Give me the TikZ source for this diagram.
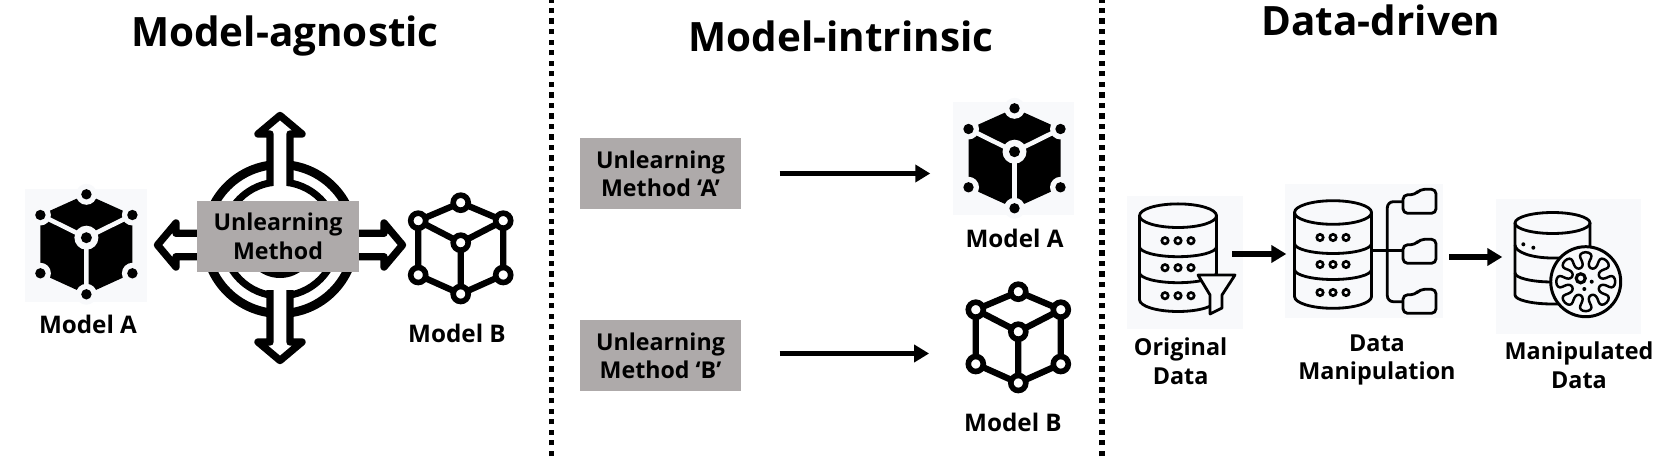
\documentclass[tikz,border=0pt]{standalone}
\usepackage{fontspec}
\setmainfont{Open Sans}
\usepackage{xcolor}
\usetikzlibrary{arrows.meta,positioning,calc}
\definecolor{methodgray}{HTML}{AEAAAA}
\definecolor{panelbg}{HTML}{F8F9FB}
\tikzset{
  titlelabel/.style={font=\fontsize{11.5}{18}\selectfont\bfseries},
  iconlabel/.style={font=\fontsize{6.9}{8.2}\selectfont\bfseries,align=center,inner sep=0pt},
  datalabel/.style={font=\fontsize{6.65}{8.2}\selectfont\bfseries,align=center,inner sep=0pt},
  methodbox/.style={fill=methodgray,minimum width=1.61cm,minimum height=.71cm,inner sep=0pt,
    align=center,font=\fontsize{6.6}{7.9}\selectfont\bfseries},
  iconpanel/.style={fill=panelbg,inner sep=0pt},
  sepline/.style={line width=1.45pt,dash pattern=on 1.5pt off 1.5pt},
  flowarrow/.style={line width=1.5pt,-{Triangle[length=.15cm,width=.17cm]}},
  compassline/.style={line width=2.1pt,line join=round},
  iconline/.style={line width=.8pt,line join=round},
  cubesolid/.pic={
    \fill (0,.434)--(.46,.227)--(.46,-.356)--(0,-.566)--(-.46,-.356)--(-.46,.227)--cycle;
    \draw[panelbg,line width=1.3pt] (-.46,.227)--(0,0)--(.46,.227) (0,0)--(0,-.566);
    \foreach \vx/\vy in {0/.434,.46/.227,.46/-.356,0/-.566,-.46/-.356,-.46/.227}{
      \fill[panelbg] (\vx,\vy) circle (.105);
      \fill (\vx,\vy) circle (.052);
    }
    \fill[panelbg] (0,0) circle (.12);
    \fill (0,0) circle (.055);
  },
  cubewire/.pic={
    \draw[line width=1.8pt,line join=round] (-.425,.22)--(0,.40)--(.425,.22)--(0,0)--cycle
      (0,0)--(0,-.513) (-.425,.22)--(-.425,-.323)--(0,-.513)--(.425,-.323)--(.425,.22);
    \foreach \vx/\vy in {0/.40,.425/.22,.425/-.323,0/-.513,-.425/-.323,-.425/.22,0/0}
      \draw[line width=1.6pt,fill=white] (\vx,\vy) circle (.075);
  },
  dbstack/.pic={
    \draw[iconline] (0,0) ellipse (.385 and .118);
    \draw[iconline] (-.385,0)--(-.385,-.84) arc[start angle=180,end angle=360,x radius=.385,y radius=.118]--(.385,0);
    \foreach \sy in {.31,.57}
      \draw[iconline] (-.385,-\sy) arc[start angle=180,end angle=360,x radius=.385,y radius=.10];
    \foreach \sy in {.25,.52,.80}
      \foreach \sx in {-.13,0,.13}
        \draw[line width=.75pt] (\sx,-\sy) circle (.032);
  },
  folder/.pic={
    \draw[iconline,rounded corners=.045cm] (0,0)--(0,.185)--(.12,.185)--(.17,.24)--(.33,.24)--(.33,0)--cycle;
  }
}
\begin{document}
\begin{tikzpicture}
  \useasboundingbox (0,0) rectangle (16.55,4.56);
  % column rules
  \draw[sepline] (5.515,0) -- (5.515,4.56);
  \draw[sepline] (11.02,0) -- (11.02,4.56);

  \node[titlelabel] (titleA) at (2.85,4.20) {Model-agnostic};
  \node[titlelabel] (titleB) at (8.41,4.20) {Model-intrinsic};
  \node[titlelabel] (titleC) at (13.81,4.36) {Data-driven};

  % first column
  \node[iconpanel,minimum width=1.22cm,minimum height=1.13cm] (modelA) at (.86,2.105) {};
  \pic at (.864,2.183) {cubesolid};
  \node[iconlabel] (labelA) at (.88,1.315) {Model A};

  \draw[line width=2.55pt] (2.80,2.17) circle (.745);
  \draw[line width=2pt] (2.80,2.17) circle (.57);
  \fill (2.80,2.14) circle (.36);
  \foreach \ang in {0,180}
    \draw[compassline,fill=white,shift={(2.80,2.18)},rotate=\ang]
      (-.10,.52)--(-.10,1.04)--(-.22,1.04)--(0,1.225)--(.22,1.04)--(.10,1.04)--(.10,.52);
  \foreach \ang in {90,270}
    \draw[compassline,fill=white,shift={(2.80,2.11)},rotate=\ang]
      (-.117,.75)--(-.117,1.04)--(-.22,1.04)--(0,1.225)--(.22,1.04)--(.117,1.04)--(.117,.75);
  \node[methodbox,minimum width=1.62cm,font=\fontsize{6.6}{8.1}\selectfont\bfseries] (method) at (2.78,2.195) {Unlearning\\Method};

  \node[minimum size=1.05cm,inner sep=0pt] (modelB) at (4.607,2.133) {};
  \pic at (modelB.center) {cubewire};
  \node[iconlabel] (labelB) at (4.57,1.225) {Model B};

  % second column
  \node[methodbox] (methodA) at (6.605,2.825) {Unlearning\\Method ‘A’};
  \node[methodbox] (methodB) at (6.605,1.005) {Unlearning\\Method ‘B’};
  \node[iconpanel,minimum width=1.21cm,minimum height=1.13cm] (modelAii) at (10.135,2.97) {};
  \pic at (10.145,3.043) {cubesolid};
  \node[iconlabel] (labelAii) at (10.145,2.177) {Model A};
  \node[minimum size=1.05cm,inner sep=0pt] (modelBii) at (10.183,1.243) {};
  \pic at (modelBii.center) {cubewire};
  \node[iconlabel] (labelBii) at (10.13,.34) {Model B};
  \draw[flowarrow,shorten <=.38cm,shorten >=.22cm] (methodA.east) -- (methodA.east -| modelAii.west);
  \draw[flowarrow,shorten <=.38cm,shorten >=.36cm] ([yshift=.02cm]methodB.east) -- ([yshift=.02cm]methodB.east -| modelBii.west);

  % third column
  \node[iconpanel,minimum width=1.16cm,minimum height=1.33cm] (original) at (11.85,1.935) {};
  \pic at (11.78,2.403) {dbstack};
  \draw[iconline,fill=panelbg] (11.98,1.81)--(12.35,1.81)--(12.22,1.61)--(12.22,1.48)--(12.10,1.42)--(12.10,1.61)--cycle;
  \node[datalabel] (labelO) at (11.806,.95) {Original\\Data};

  \node[iconpanel,minimum width=1.58cm,minimum height=1.34cm] (manip) at (13.64,2.05) {};
  \pic at (13.33,2.435) {dbstack};
  \draw[iconline,rounded corners=.06cm] (14.03,2.543)--(13.873,2.543)--(13.873,1.543)--(14.03,1.543);
  \draw[iconline] (13.707,2.053)--(14.03,2.053);
  \foreach \fy in {2.427,1.927,1.427}
    \pic at (14.03,\fy) {folder};
  \node[datalabel] (labelM) at (13.77,.96) {Data\\Manipulation};

  \node[iconpanel,minimum width=1.45cm,minimum height=1.34cm] (manipd) at (15.685,1.895) {};
  \draw[iconline] (15.525,2.33) ellipse (.375 and .105);
  \draw[iconline] (15.15,2.33)--(15.15,1.61) arc[start angle=180,end angle=360,x radius=.375,y radius=.09]--(15.90,2.33);
  \draw[iconline] (15.15,2.11) arc[start angle=180,end angle=270,x radius=.375,y radius=.13]--(15.70,1.98);
  \draw[iconline] (15.15,1.83) arc[start angle=180,end angle=270,x radius=.375,y radius=.09]--(15.70,1.74);
  \fill (15.233,2.117) circle (.02) (15.333,2.083) circle (.02);
  \draw[line width=.85pt,fill=panelbg] (15.857,1.743) circle (.35);
  \draw[line width=.7pt,line join=round,shift={(15.857,1.743)}] plot[domain=0:360,samples=161,smooth]
    ({(.22+.075*cos(8*\x))*cos(\x+6*sin(16*\x))},{(.22+.075*cos(8*\x))*sin(\x+6*sin(16*\x))});
  \draw[line width=.9pt] (15.807,1.777) circle (.045);
  \fill (15.917,1.743) circle (.02) (15.843,1.67) circle (.02);
  \node[datalabel] (labelD) at (15.79,.91) {Manipulated\\Data};

  \coordinate (flowC) at (12.32,2.02);
  \coordinate (flowD) at (14.49,1.99);
  \draw[flowarrow,shorten >=-.02cm] (flowC) -- (flowC -| manip.west);
  \draw[flowarrow,shorten >=-.07cm] (flowD) -- (flowD -| manipd.west);
\end{tikzpicture}
\end{document}
